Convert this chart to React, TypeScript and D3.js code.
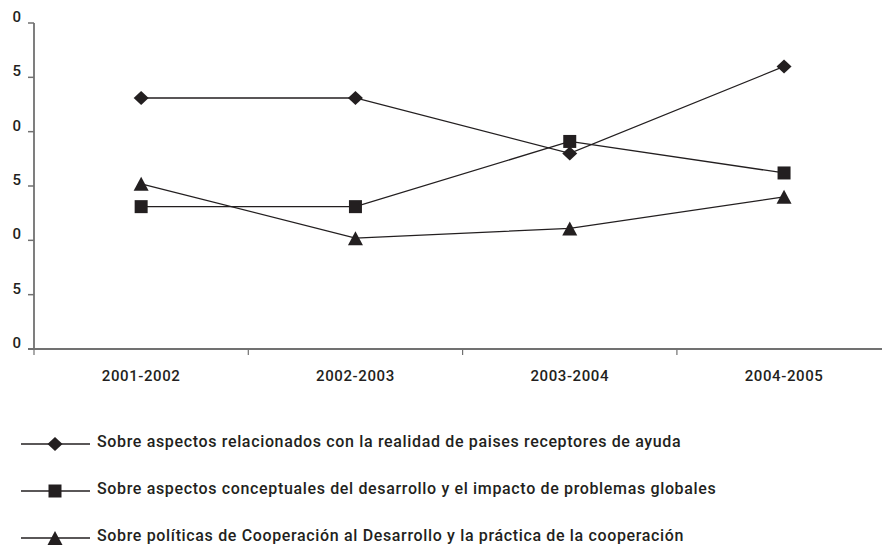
import React from "react";
import * as d3 from "d3";

const categories = ["2001-2002", "2002-2003", "2003-2004", "2004-2005"];
const seriesNames = [
  "Sobre aspectos relacionados con la realidad de paises receptores de ayuda",
  "Sobre aspectos conceptuales del desarrollo y el impacto de problemas globales",
  "Sobre políticas de Cooperación al Desarrollo y la práctica de la cooperación",
];
const diamondValues = [23.1, 23.1, 18.0, 26.0];
const squareValues = [13.1, 13.1, 19.1, 16.2];
const triangleValues = [15.2, 10.2, 11.1, 14.0];
const yTickValues = [0, 5, 10, 15, 20, 25, 30];
const yTickLabels = ["0", "5", "0", "5", "0", "5", "0"];
const markerKinds = ["diamond", "square", "triangle"];

const W = 882;
const H = 546;
const FONT = "Roboto, 'Noto Sans', sans-serif";
const INK = "#231f20";
const AXIS = "#717171";

function markerPath(kind: string): string {
  const p = d3.path();
  if (kind === "diamond") {
    p.moveTo(0, -7);
    p.lineTo(7.5, 0);
    p.lineTo(0, 7);
    p.lineTo(-7.5, 0);
    p.closePath();
  } else if (kind === "square") {
    p.rect(-6.5, -6.5, 13, 13);
  } else {
    p.moveTo(0, -7);
    p.lineTo(7.5, 7);
    p.lineTo(-7.5, 7);
    p.closePath();
  }
  return p.toString();
}

export default function App() {
  const x = d3
    .scaleBand<string>()
    .domain(categories)
    .range([34, 34 + 214.3 * categories.length])
    .padding(0);
  const y = d3.scaleLinear().domain([0, 30]).range([349, 23]);
  const cx = (c: string) => (x(c) as number) + x.bandwidth() / 2;

  const series = [diamondValues, squareValues, triangleValues];
  const line = d3
    .line<number>()
    .x((_, i) => cx(categories[i]))
    .y((v) => y(v));

  const legend = d3.scaleLinear().domain([0, 2]).range([444, 538]);
  const [y0, y1] = y.range();
  const xEnd = x.range()[1];

  return (
    <svg
      width={W}
      height={H}
      style={{ position: "absolute", left: 0, top: 0, background: "#fff" }}
    >
      {/* axes */}
      <line x1={34} x2={34} y1={y1} y2={y0 + 1} stroke={AXIS} strokeWidth={1.8} />
      <line x1={28} x2={xEnd} y1={y0} y2={y0} stroke={AXIS} strokeWidth={1.8} />
      {yTickValues.map((v, i) => (
        <g key={"yt" + i}>
          <line x1={28} x2={34} y1={y(v)} y2={y(v)} stroke={AXIS} strokeWidth={1.5} />
          <text
            x={21}
            y={y(v) - 1}
            textAnchor="end"
            fontFamily={FONT}
            fontWeight={500}
            fontSize={15}
            fill={INK}
          >
            {yTickLabels[i]}
          </text>
        </g>
      ))}
      {categories.map((c, i) => (
        <g key={"xt" + i}>
          <line
            x1={(x(c) as number)}
            x2={(x(c) as number)}
            y1={y0}
            y2={y0 + 6}
            stroke={AXIS}
            strokeWidth={1.2}
          />
          <text
            x={cx(c)}
            y={y0 + 32}
            textAnchor="middle"
            fontFamily={FONT}
            fontWeight={500}
            fontSize={15}
            letterSpacing={0.6}
            fill={INK}
          >
            {c}
          </text>
        </g>
      ))}
      {/* series */}
      {series.map((vals, si) => (
        <g key={"s" + si}>
          <path d={line(vals) || ""} fill="none" stroke={INK} strokeWidth={1.3} />
          {vals.map((v, i) => (
            <path
              key={i}
              d={markerPath(markerKinds[si])}
              transform={`translate(${cx(categories[i])},${y(v)})`}
              fill={INK}
            />
          ))}
        </g>
      ))}
      {/* legend */}
      {seriesNames.map((name, si) => (
        <g key={"lg" + si} transform={`translate(0,${legend(si)})`}>
          <line x1={21} x2={90} y1={0} y2={0} stroke={INK} strokeWidth={1.3} />
          <path d={markerPath(markerKinds[si])} transform="translate(55,0)" fill={INK} />
          <text
            x={97}
            y={3}
            fontFamily={FONT}
            fontWeight={500}
            fontSize={16}
            letterSpacing={0.65}
            fill={INK}
          >
            {name}
          </text>
        </g>
      ))}
    </svg>
  );
}
